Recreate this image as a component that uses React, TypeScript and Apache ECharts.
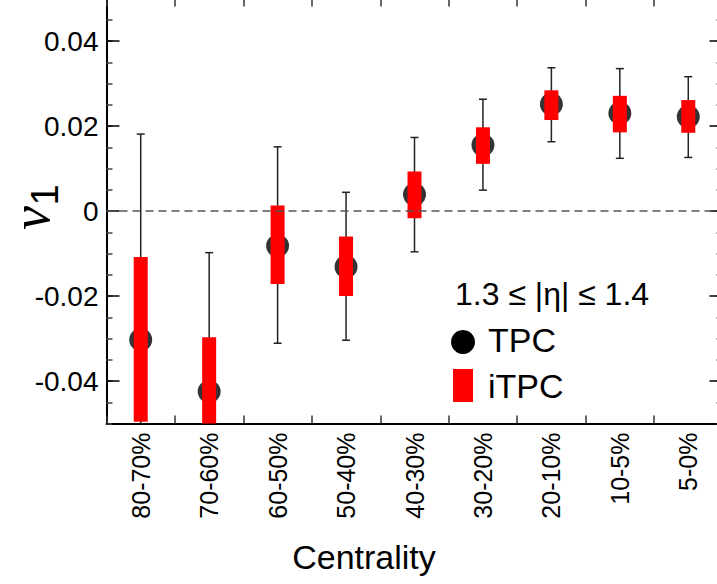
import React, { useEffect, useRef } from "react";
import * as echarts from "echarts";

const categories = ["80-70%", "70-60%", "60-50%", "50-40%", "40-30%", "30-20%", "20-10%", "10-5%", "5-0%"];
const tpcV1 = [-0.0303, -0.0425, -0.0082, -0.0131, 0.0039, 0.0155, 0.0251, 0.023, 0.0222];
const tpcErrLow = [-0.0787, -0.0752, -0.0311, -0.0304, -0.0096, 0.0049, 0.0163, 0.0124, 0.0126];
const tpcErrHigh = [0.0181, -0.0098, 0.0151, 0.0044, 0.0173, 0.0263, 0.0337, 0.0335, 0.0316];
const itpcLow = [-0.0496, -0.0553, -0.0172, -0.02, -0.0017, 0.0111, 0.0214, 0.0185, 0.0184];
const itpcHigh = [-0.0108, -0.0297, 0.0013, -0.006, 0.0093, 0.0197, 0.0284, 0.0271, 0.0261];
const majorTicks = [-0.04, -0.02, 0, 0.02, 0.04];

const FONT = "'Liberation Sans', Arial, Helvetica, sans-serif";

export default function App() {
  const ref = useRef<HTMLDivElement>(null);
  useEffect(() => {
    if (!ref.current) return;
    const chart = echarts.init(ref.current, undefined, { renderer: "svg" });
    const yBase = { type: "value", min: -0.05, max: 0.05, splitLine: { show: false } };
    const option: any = {
      animation: false,
      backgroundColor: "#ffffff",
      grid: {
        left: 106.5,
        right: -5.5,
        top: -1.5,
        bottom: 160.5,
        containLabel: false,
        outerBoundsMode: "none",
      },
      xAxis: [
        {
          type: "category",
          data: categories,
          position: "bottom",
          axisLine: { show: true, onZero: false, lineStyle: { color: "#000", width: 2 } },
          axisTick: { show: true, inside: true, length: 8, lineStyle: { color: "#333", width: 1.5 } },
          axisLabel: { rotate: 90, fontSize: 25, margin: 9, color: "#000", fontFamily: FONT },
          splitLine: { show: false },
        },
        {
          type: "category",
          data: categories,
          position: "top",
          axisLine: { show: false, onZero: false },
          axisTick: { show: true, inside: true, length: 8, lineStyle: { color: "#333", width: 1.5 } },
          axisLabel: { show: false },
          splitLine: { show: false },
        },
      ],
      yAxis: [
        {
          ...yBase,
          position: "left",
          interval: 0.005,
          axisLine: { show: true, onZero: false, lineStyle: { color: "#000", width: 2 } },
          axisTick: { show: true, inside: true, length: 6, lineStyle: { color: "#444", width: 1.5 } },
          axisLabel: { show: false },
        },
        {
          ...yBase,
          position: "left",
          interval: 0.005,
          axisLine: { show: false, onZero: false },
          axisTick: { show: true, inside: true, length: 13, customValues: majorTicks, lineStyle: { color: "#000", width: 1.5 } },
          axisLabel: {
            show: true,
            customValues: majorTicks,
            fontSize: 28,
            margin: 8,
            color: "#000",
            fontFamily: FONT,
            formatter: (v: number) => (Math.abs(v) < 1e-9 ? "0" : v.toFixed(2)),
          },
        },
        {
          ...yBase,
          position: "right",
          interval: 0.005,
          axisLine: { show: true, onZero: false, lineStyle: { color: "#000", width: 2 } },
          axisTick: { show: true, inside: true, length: 6, lineStyle: { color: "#444", width: 1.5 } },
          axisLabel: { show: false },
        },
        {
          ...yBase,
          position: "right",
          interval: 0.005,
          axisLine: { show: false, onZero: false },
          axisTick: { show: true, inside: true, length: 13, customValues: majorTicks, lineStyle: { color: "#000", width: 1.5 } },
          axisLabel: { show: false },
        },
      ],
      series: [
        {
          type: "custom",
          name: "TPC errors",
          clip: true,
          z: 2,
          data: categories.map((c, i) => [i, tpcErrLow[i], tpcErrHigh[i]]),
          renderItem: (params: any, api: any) => {
            const top = api.coord([api.value(0), api.value(2)]);
            const bot = api.coord([api.value(0), api.value(1)]);
            const hw = 4;
            const st = { stroke: "#222", lineWidth: 1.5 };
            return {
              type: "group",
              children: [
                { type: "line", shape: { x1: top[0], y1: top[1], x2: bot[0], y2: bot[1] }, style: st },
                { type: "line", shape: { x1: top[0] - hw, y1: top[1], x2: top[0] + hw, y2: top[1] }, style: st },
                { type: "line", shape: { x1: bot[0] - hw, y1: bot[1], x2: bot[0] + hw, y2: bot[1] }, style: st },
              ],
            };
          },
          markLine: {
            silent: true,
            symbol: "none",
            label: { show: false },
            lineStyle: { color: "#555", type: [8, 5], width: 1.5 },
            data: [{ yAxis: 0 }],
          },
        },
        {
          type: "scatter",
          name: "TPC",
          symbol: "circle",
          symbolSize: 23,
          z: 3,
          itemStyle: { color: "#000" },
          data: categories.map((c, i) => [i, tpcV1[i]]),
        },
        {
          type: "custom",
          name: "iTPC",
          clip: true,
          z: 4,
          data: categories.map((c, i) => [i, itpcLow[i], itpcHigh[i]]),
          renderItem: (params: any, api: any) => {
            const top = api.coord([api.value(0), api.value(2)]);
            const bot = api.coord([api.value(0), api.value(1)]);
            const w = 14;
            return {
              type: "rect",
              shape: { x: top[0] - w / 2, y: top[1], width: w, height: bot[1] - top[1] },
              style: { fill: "#ff0000" },
            };
          },
        },
      ],
      graphic: [
        {
          type: "group",
          x: 46,
          y: 228,
          rotation: Math.PI / 2,
          children: [
            {
              type: "text",
              x: -2,
              y: -15.5,
              style: { text: "v", font: "italic 54px 'Liberation Serif', 'Times New Roman', serif", fill: "#000", verticalAlign: "middle", align: "left" },
            },
            {
              type: "text",
              x: 33,
              y: -1,
              style: { text: "1", font: `38px ${FONT}`, fill: "#000", verticalAlign: "middle", align: "center" },
            },
          ],
        },
        {
          type: "text",
          x: 364,
          y: 557,
          style: { text: "Centrality", font: `34px ${FONT}`, fill: "#000", align: "center", verticalAlign: "middle" },
        },
        {
          type: "text",
          x: 455,
          y: 294,
          style: { text: "1.3 ≤ |η| ≤ 1.4", font: `32px ${FONT}`, fill: "#000", align: "left", verticalAlign: "middle" },
        },
        { type: "circle", shape: { cx: 463, cy: 342, r: 12 }, style: { fill: "#000" } },
        {
          type: "text",
          x: 488,
          y: 340,
          style: { text: "TPC", font: `34px ${FONT}`, fill: "#000", align: "left", verticalAlign: "middle" },
        },
        { type: "rect", shape: { x: 453, y: 369, width: 20, height: 33 }, style: { fill: "#ff0000" } },
        {
          type: "text",
          x: 488,
          y: 386,
          style: { text: "iTPC", font: `34px ${FONT}`, fill: "#000", align: "left", verticalAlign: "middle" },
        },
      ],
    };
    chart.setOption(option);
    return () => chart.dispose();
  }, []);
  return <div ref={ref} style={{ position: "absolute", left: 0, top: 0, width: 717, height: 584 }} />;
}
